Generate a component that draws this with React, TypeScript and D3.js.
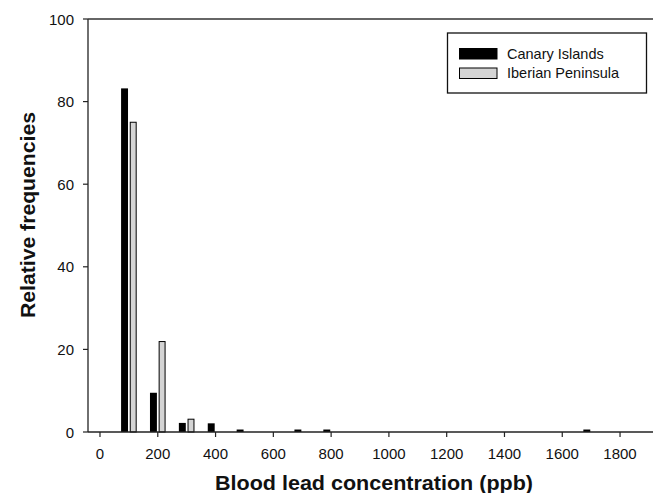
import React, { useEffect, useRef } from 'react'
import * as d3 from 'd3'

// bin centres (ppb)
const bins = [100, 200, 300, 400, 500, 700, 800, 1700]
const canary = [83.2, 9.5, 2.2, 2.1, 0.6, 0.6, 0.6, 0.6]
const iberian = [75, 21.9, 3.1, 0, 0, 0, 0, 0]
const xTicks = [0, 200, 400, 600, 800, 1000, 1200, 1400, 1600, 1800]
const yTicks = [0, 20, 40, 60, 80, 100]
const seriesNames = ['Canary Islands', 'Iberian Peninsula']

const W = 653
const H = 493

export default function App() {
  const ref = useRef<SVGSVGElement>(null)

  useEffect(() => {
    document.body.style.margin = '0'
    const svg = d3.select(ref.current)
    svg.selectAll('*').remove()

    const x = d3.scaleLinear().domain([-41.5, 1921]).range([88, 655])
    const y = d3.scaleLinear().domain([0, 100]).range([432, 19])
    const font = 'Liberation Sans, Arial, sans-serif'
    const offset = 15
    const bw = x(24) - x(0)

    // frame lines (left, top) — right side is cut off
    svg.append('line').attr('x1', 88).attr('x2', 88).attr('y1', y(100)).attr('y2', y(0))
      .attr('stroke', '#222').attr('stroke-width', 1.3)
    svg.append('line').attr('x1', 88).attr('x2', W).attr('y1', y(100)).attr('y2', y(100))
      .attr('stroke', '#333').attr('stroke-width', 1.3)

    // bars
    const g = svg.append('g')
    g.selectAll('rect.c').data(bins.map((b, i) => ({ b, v: canary[i] })).filter(d => d.v > 0))
      .enter().append('rect')
      .attr('x', d => x(d.b - offset) - bw / 2)
      .attr('y', d => y(d.v))
      .attr('width', bw)
      .attr('height', d => y(0) - y(d.v))
      .attr('fill', '#000')
    g.selectAll('rect.i').data(bins.map((b, i) => ({ b, v: iberian[i] })).filter(d => d.v > 0))
      .enter().append('rect')
      .attr('x', d => x(d.b + offset) - bw / 2 + 0.5)
      .attr('y', d => y(d.v))
      .attr('width', bw - 1)
      .attr('height', d => y(0) - y(d.v))
      .attr('fill', '#d4d4d4')
      .attr('stroke', '#000')
      .attr('stroke-width', 1)

    // x axis
    const xa = svg.append('g').attr('transform', `translate(0,${y(0)})`)
    xa.append('line').attr('x1', 88).attr('x2', W).attr('stroke', '#222').attr('stroke-width', 1.3)
    xTicks.forEach(t => {
      xa.append('line').attr('x1', x(t)).attr('x2', x(t)).attr('y1', 0).attr('y2', 5)
        .attr('stroke', '#222').attr('stroke-width', 1.2)
      xa.append('text').attr('x', x(t)).attr('y', 27).attr('text-anchor', 'middle')
        .attr('font-family', font).attr('font-size', 15).attr('fill', '#111').text(t)
    })

    // y axis
    yTicks.forEach(t => {
      svg.append('line').attr('x1', 83).attr('x2', 88).attr('y1', y(t)).attr('y2', y(t))
        .attr('stroke', '#222').attr('stroke-width', 1.2)
      svg.append('text').attr('x', 74).attr('y', y(t) + 5.5).attr('text-anchor', 'end')
        .attr('font-family', font).attr('font-size', 15).attr('fill', '#111').text(t)
    })

    // axis titles
    svg.append('text').attr('x', 215).attr('y', 490)
      .attr('textLength', 318).attr('lengthAdjust', 'spacingAndGlyphs')
      .attr('font-family', font).attr('font-size', 19.5).attr('font-weight', 'bold')
      .attr('fill', '#111').text('Blood lead concentration (ppb)')
    svg.append('text').attr('transform', 'translate(35,318) rotate(-90)')
      .attr('textLength', 206).attr('lengthAdjust', 'spacingAndGlyphs')
      .attr('font-family', font).attr('font-size', 19.5).attr('font-weight', 'bold')
      .attr('fill', '#111').text('Relative frequencies')

    // legend
    const lg = svg.append('g')
    lg.append('rect').attr('x', 447.5).attr('y', 33).attr('width', 199).attr('height', 60)
      .attr('fill', '#fff').attr('stroke', '#111').attr('stroke-width', 1.3)
    const fills = ['#000', '#d4d4d4']
    seriesNames.forEach((name, i) => {
      const yy = 48.5 + i * 19.5
      lg.append('rect').attr('x', 459.5).attr('y', yy).attr('width', 37.5).attr('height', 10.5)
        .attr('fill', fills[i]).attr('stroke', '#000').attr('stroke-width', 1)
      lg.append('text').attr('x', 507).attr('y', yy + 10).attr('font-family', font)
        .attr('font-size', 14.5).attr('fill', '#111').text(name)
    })
  }, [])

  return <svg ref={ref} width={W} height={H} style={{ display: 'block', background: '#fff' }} />
}
